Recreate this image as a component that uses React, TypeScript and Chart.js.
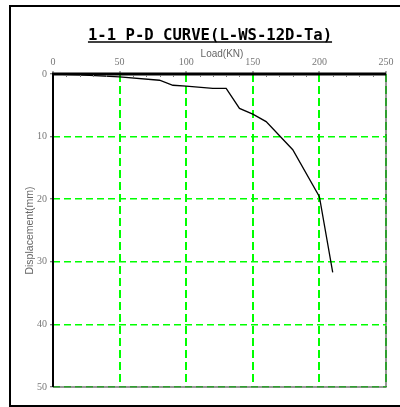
import React, { useEffect, useRef } from "react";
import { Chart, registerables } from "chart.js";

Chart.register(...registerables);

const titleText = "1-1 P-D CURVE(L-WS-12D-Ta)";
const xTitle = "Load(KN)";
const yTitle = "Displacement(mm)";
const loads = [0, 20, 50, 80, 90, 100, 120, 130, 140, 150, 160, 180, 200, 210];
const displacements = [0, 0.15, 0.45, 1.0, 1.8, 1.95, 2.3, 2.3, 5.5, 6.4, 7.6, 12.1, 19.6, 31.7];
const xMax = 250;
const xStep = 50;
const xMinorStep = 10;
const yMax = 50;
const yStep = 10;

const decorPlugin = {
  id: "decor",
  beforeDraw(chart: any) {
    const { ctx, chartArea } = chart;
    ctx.save();
    ctx.strokeStyle = "#777";
    ctx.lineWidth = 1.5;
    ctx.beginPath();
    ctx.moveTo(chartArea.right, chartArea.top);
    ctx.lineTo(chartArea.right, chartArea.bottom);
    ctx.lineTo(chartArea.left, chartArea.bottom);
    ctx.stroke();
    ctx.restore();
  },
  afterDraw(chart: any) {
    const { ctx, chartArea } = chart;
    const xs = chart.scales.x;
    ctx.save();
    // axis lines
    ctx.strokeStyle = "#000";
    ctx.lineWidth = 2;
    ctx.beginPath();
    ctx.moveTo(chartArea.left, chartArea.top);
    ctx.lineTo(chartArea.left, chartArea.bottom);
    ctx.stroke();
    ctx.lineWidth = 3;
    ctx.beginPath();
    ctx.moveTo(chartArea.left - 1, chartArea.top);
    ctx.lineTo(chartArea.right, chartArea.top);
    ctx.stroke();
    // outer frame
    ctx.lineWidth = 2;
    ctx.beginPath();
    ctx.moveTo(402, 6);
    ctx.lineTo(10, 6);
    ctx.lineTo(10, 406);
    ctx.lineTo(402, 406);
    ctx.stroke();
    // title
    ctx.fillStyle = "#000";
    ctx.font = "bold 15.6px 'DejaVu Sans Mono'";
    ctx.textAlign = "center";
    ctx.textBaseline = "alphabetic";
    ctx.fillText(titleText, 210, 40);
    const w = ctx.measureText(titleText).width;
    ctx.lineWidth = 1.5;
    ctx.beginPath();
    ctx.moveTo(210 - w / 2, 42);
    ctx.lineTo(210 + w / 2, 42);
    ctx.stroke();
    // x title
    ctx.fillStyle = "#666";
    ctx.font = "10px 'Liberation Sans'";
    ctx.textBaseline = "middle";
    ctx.fillText(xTitle, 222, 54);
    // y title
    ctx.save();
    ctx.translate(30, (chartArea.top + chartArea.bottom) / 2);
    ctx.rotate(-Math.PI / 2);
    ctx.font = "10.5px 'Liberation Sans'";
    ctx.fillText(yTitle, 0, 0);
    ctx.restore();
    // minor ticks on top axis
    ctx.fillStyle = "#777";
    for (let v = xMinorStep; v < xMax; v += xMinorStep) {
      if (v % xStep === 0) continue;
      const px = Math.round(xs.getPixelForValue(v));
      ctx.fillRect(px, chartArea.top + 1, 1, 2);
    }
    ctx.restore();
  },
};

export default function App() {
  const ref = useRef<HTMLCanvasElement | null>(null);
  useEffect(() => {
    if (!ref.current) return;
    const chart = new Chart(ref.current, {
      type: "line",
      data: {
        datasets: [
          {
            data: loads.map((x, i) => ({ x, y: displacements[i] })),
            borderColor: "#000",
            borderWidth: 1.3,
            pointRadius: 0,
            tension: 0,
            fill: false,
          },
        ],
      },
      options: {
        animation: false,
        responsive: false,
        layout: { padding: { left: 0, top: 0, right: 14, bottom: 20 } },
        plugins: { legend: { display: false }, tooltip: { enabled: false }, title: { display: false } },
        scales: {
          x: {
            type: "linear",
            position: "top",
            min: 0,
            max: xMax,
            afterFit: (s: any) => {
              s.height = 74;
            },
            ticks: {
              stepSize: xStep,
              padding: 3,
              color: "#777",
              font: { family: "'Liberation Serif'", size: 10 },
            },
            grid: {
              color: (c: any) => (c.tick && c.tick.value === xMax ? "#2f9f2f" : "#00ff00"),
              lineWidth: 2,
              tickLength: 3,
              tickColor: "#555",
              tickWidth: 1,
              tickBorderDash: [],
            },
            border: { display: false, dash: [8, 4] },
          } as any,
          y: {
            type: "linear",
            reverse: true,
            min: 0,
            max: yMax,
            afterFit: (s: any) => {
              s.width = 53;
            },
            ticks: {
              stepSize: yStep,
              padding: 3,
              color: "#777",
              font: { family: "'Liberation Serif'", size: 10 },
            },
            grid: {
              color: (c: any) => (c.tick && c.tick.value === yMax ? "#2f9f2f" : "#00ff00"),
              lineWidth: 1.5,
              tickLength: 3,
              tickColor: "#555",
              tickWidth: 1,
              tickBorderDash: [],
            },
            border: { display: false, dash: [7, 4] },
          } as any,
        },
      },
      plugins: [decorPlugin],
    });
    return () => chart.destroy();
  }, []);
  return (
    <div style={{ position: "fixed", left: 0, top: 0, width: 400, height: 407, background: "#fff" }}>
      <canvas ref={ref} width={400} height={407} style={{ display: "block" }} />
    </div>
  );
}
